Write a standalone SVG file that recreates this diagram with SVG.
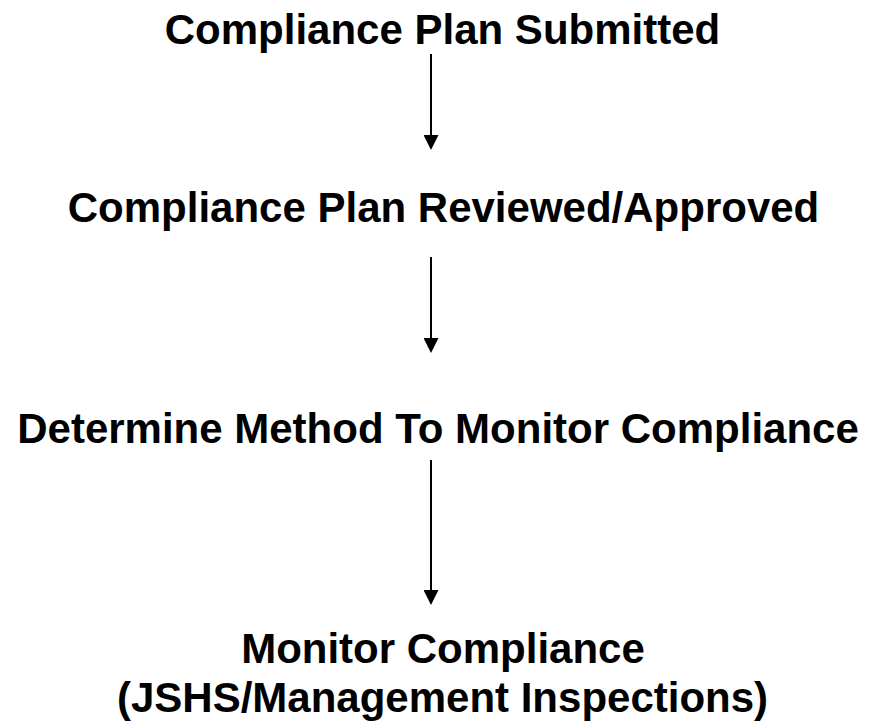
<svg xmlns="http://www.w3.org/2000/svg" width="877" height="724" viewBox="0 0 877 724">
  <style>
    .lbl { font-family: "Liberation Sans", Arial, sans-serif; font-weight: bold; font-size: 42px; fill: #000; text-anchor: middle; }
    .conn { stroke: #000; stroke-width: 2; fill: none; marker-end: url(#arrow); }
  </style>
  <defs>
    <marker id="arrow" markerUnits="userSpaceOnUse" markerWidth="15" markerHeight="15" viewBox="0 0 15 15" refX="0" refY="7.5" orient="auto">
      <path d="M0,0 L15,7.5 L0,15 z" fill="#000"/>
    </marker>
  </defs>
  <rect width="877" height="724" fill="#fff"/>
  <g id="node-submitted">
    <text class="lbl" x="442.5" y="44">Compliance Plan Submitted</text>
  </g>
  <g id="node-reviewed">
    <text class="lbl" x="443.5" y="222">Compliance Plan Reviewed/Approved</text>
  </g>
  <g id="node-determine">
    <text class="lbl" x="438" y="443">Determine Method To Monitor Compliance</text>
  </g>
  <g id="node-monitor">
    <text class="lbl" x="443" y="663">Monitor Compliance</text>
    <text class="lbl" x="442.5" y="712">(JSHS/Management Inspections)</text>
  </g>
  <g id="connectors">
    <line class="conn" x1="431" y1="54" x2="431" y2="135"/>
    <line class="conn" x1="431" y1="257" x2="431" y2="338"/>
    <line class="conn" x1="431" y1="460" x2="431" y2="590"/>
  </g>
</svg>
